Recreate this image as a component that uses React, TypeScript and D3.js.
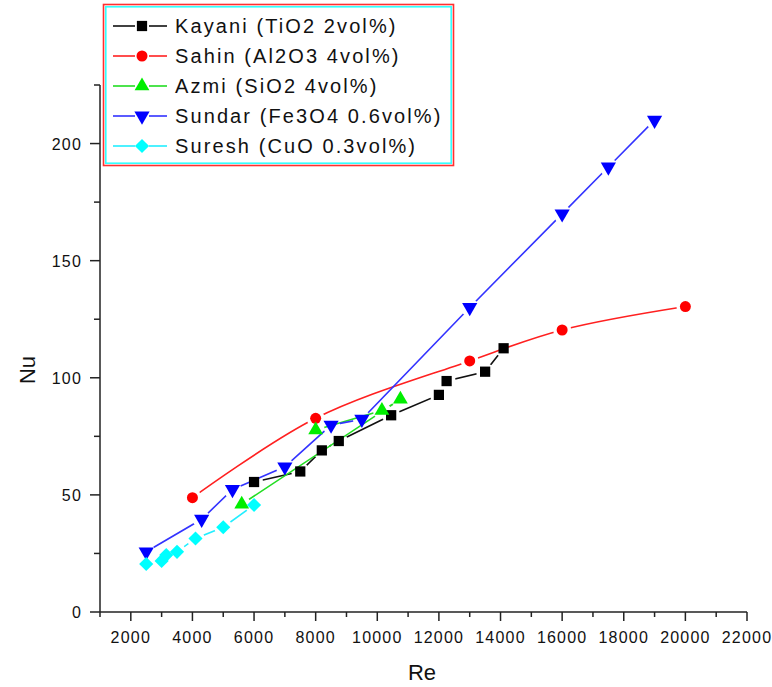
import React from 'react';
import * as d3 from 'd3';

// Data
const kayaniRe = [6000, 7500, 8200, 8750, 10450, 12000, 12250, 13500, 14100];
const kayaniNu = [55.5, 60, 69, 73, 84, 92.7, 98.6, 102.6, 112.6];
const sahinRe = [4000, 8000, 13000, 16000, 20000];
const sahinNu = [48.8, 82.7, 107.2, 120.4, 130.4];
const azmiRe = [5600, 10750, 10150, 8000];
const azmiNu = [46, 90.8, 86, 77.7];
const sundarRe = [2500, 4300, 5300, 7000, 8500, 9500, 13000, 16000, 17500, 19000];
const sundarNu = [25.7, 39.6, 52.3, 62, 79.8, 82.3, 130, 170, 190, 210];
const sureshRe = [2500, 3000, 3150, 3500, 4100, 5000, 6000];
const sureshNu = [20.5, 21.8, 24.3, 25.7, 31.4, 36.2, 45.7];

const seriesNames = [
  'Kayani (TiO2 2vol%)',
  'Sahin (Al2O3 4vol%)',
  'Azmi (SiO2 4vol%)',
  'Sundar (Fe3O4 0.6vol%)',
  'Suresh (CuO 0.3vol%)',
];
const xMajorTicks = [2000, 4000, 6000, 8000, 10000, 12000, 14000, 16000, 18000, 20000, 22000];
const xMinorTicks = [1000, 3000, 5000, 7000, 9000, 11000, 13000, 15000, 17000, 19000, 21000];
const yMajorTicks = [0, 50, 100, 150, 200];
const yMinorTicks = [25, 75, 125, 175, 225];

const W = 772;
const H = 687;
const x = d3.scaleLinear().domain([1000, 22000]).range([100, 747]);
const y = d3.scaleLinear().domain([0, 225]).range([612, 85]);

type Series = {
  name: string;
  re: number[];
  nu: number[];
  color: string;
  lineColor: string;
  symbol: 'square' | 'circle' | 'up' | 'down' | 'diamond';
  curve: d3.CurveFactory;
};

const series: Series[] = [
  { name: seriesNames[0], re: kayaniRe, nu: kayaniNu, color: '#000000', lineColor: '#111111', symbol: 'square', curve: d3.curveLinear },
  { name: seriesNames[1], re: sahinRe, nu: sahinNu, color: '#ff0000', lineColor: '#ff2020', symbol: 'circle', curve: d3.curveCatmullRom.alpha(0.5) },
  { name: seriesNames[2], re: azmiRe, nu: azmiNu, color: '#00ee00', lineColor: '#22dd22', symbol: 'up', curve: d3.curveLinear },
  { name: seriesNames[3], re: sundarRe, nu: sundarNu, color: '#0000ff', lineColor: '#3333ff', symbol: 'down', curve: d3.curveLinear },
  { name: seriesNames[4], re: sureshRe, nu: sureshNu, color: '#00ffff', lineColor: '#22eeff', symbol: 'diamond', curve: d3.curveLinear },
];

function symbolPath(kind: Series['symbol']): { d: string; rot: number } {
  switch (kind) {
    case 'square':
      return { d: d3.symbol(d3.symbolSquare, 105)()!, rot: 0 };
    case 'circle':
      return { d: d3.symbol(d3.symbolCircle, 95)()!, rot: 0 };
    case 'up':
      return { d: d3.symbol(d3.symbolTriangle, 95)()!, rot: 0 };
    case 'down':
      return { d: d3.symbol(d3.symbolTriangle, 100)()!, rot: 180 };
    case 'diamond':
      return { d: d3.symbol(d3.symbolSquare, 100)()!, rot: 45 };
  }
}

const FONT = '"Liberation Sans", Arial, sans-serif';

export default function App() {
  const gapR = 9;
  return (
    <svg
      width={W}
      height={H}
      viewBox={`0 0 ${W} ${H}`}
      style={{ position: 'absolute', left: 0, top: 0, background: '#fff' }}
      fontFamily={FONT}
    >
      <rect x={0} y={0} width={W} height={H} fill="#fff" />
      <defs>
        {series.map((s, i) => (
          <mask key={i} id={`gap-${i}`} maskUnits="userSpaceOnUse" x={0} y={0} width={W} height={H}>
            <rect x={0} y={0} width={W} height={H} fill="#fff" />
            {s.re.map((r, j) => (
              <circle key={j} cx={x(r)} cy={y(s.nu[j])} r={gapR} fill="#000" />
            ))}
          </mask>
        ))}
      </defs>

      {/* Axes */}
      <g stroke="#222" strokeWidth={1.5} fill="none">
        <line x1={100} y1={y(225)} x2={100} y2={y(0)} />
        <line x1={x(1000)} y1={612} x2={x(22000)} y2={612} />
        {xMajorTicks.map((t) => (
          <line key={`xM${t}`} x1={x(t)} x2={x(t)} y1={612} y2={621} />
        ))}
        {xMinorTicks.map((t) => (
          <line key={`xm${t}`} x1={x(t)} x2={x(t)} y1={612} y2={617} />
        ))}
        {yMajorTicks.map((t) => (
          <line key={`yM${t}`} x1={90} x2={100} y1={y(t)} y2={y(t)} />
        ))}
        {yMinorTicks.map((t) => (
          <line key={`ym${t}`} x1={94} x2={100} y1={y(t)} y2={y(t)} />
        ))}
      </g>
      <g fill="#111" fontSize={16} letterSpacing={1.2}>
        {xMajorTicks.map((t) => (
          <text key={`xl${t}`} x={x(t)} y={643} textAnchor="middle">
            {t}
          </text>
        ))}
        {yMajorTicks.map((t) => (
          <text key={`yl${t}`} x={82} y={y(t) + 6} textAnchor="end">
            {t}
          </text>
        ))}
      </g>
      <text x={422} y={680} textAnchor="middle" fontSize={22} fill="#111">
        Re
      </text>
      <text
        x={0}
        y={0}
        transform={`translate(35,370) rotate(-90)`}
        textAnchor="middle"
        fontSize={22}
        fill="#111"
      >
        Nu
      </text>

      {/* Series lines */}
      {series.map((s, i) => {
        const pts = s.re.map((r, j) => [x(r), y(s.nu[j])] as [number, number]);
        const d = d3.line().curve(s.curve)(pts)!;
        return (
          <path
            key={`l${i}`}
            d={d}
            fill="none"
            stroke={s.lineColor}
            strokeWidth={1.6}
            mask={`url(#gap-${i})`}
          />
        );
      })}
      {/* Series markers */}
      {series.map((s, i) => {
        const sp = symbolPath(s.symbol);
        return (
          <g key={`m${i}`} fill={s.color}>
            {s.re.map((r, j) => (
              <path
                key={j}
                d={sp.d}
                transform={`translate(${x(r)},${y(s.nu[j])}) rotate(${sp.rot})`}
              />
            ))}
          </g>
        );
      })}

      {/* Legend */}
      <rect x={103.5} y={4.5} width={350} height={161} fill="#fff" stroke="#ff3030" strokeWidth={1.6} />
      <rect x={105.8} y={6.8} width={345.4} height={156.4} fill="none" stroke="#33ffff" strokeWidth={1.6} />
      {series.map((s, i) => {
        const cy = 26 + i * 30;
        const sp = symbolPath(s.symbol);
        return (
          <g key={`lg${i}`}>
            <line x1={113} x2={135} y1={cy} y2={cy} stroke={s.lineColor} strokeWidth={1.6} />
            <line x1={149} x2={167} y1={cy} y2={cy} stroke={s.lineColor} strokeWidth={1.6} />
            <path d={sp.d} fill={s.color} transform={`translate(142,${cy}) rotate(${sp.rot})`} />
            <text x={175} y={cy + 7} fontSize={20} letterSpacing={2.1} fill="#111">
              {s.name}
            </text>
          </g>
        );
      })}
    </svg>
  );
}
